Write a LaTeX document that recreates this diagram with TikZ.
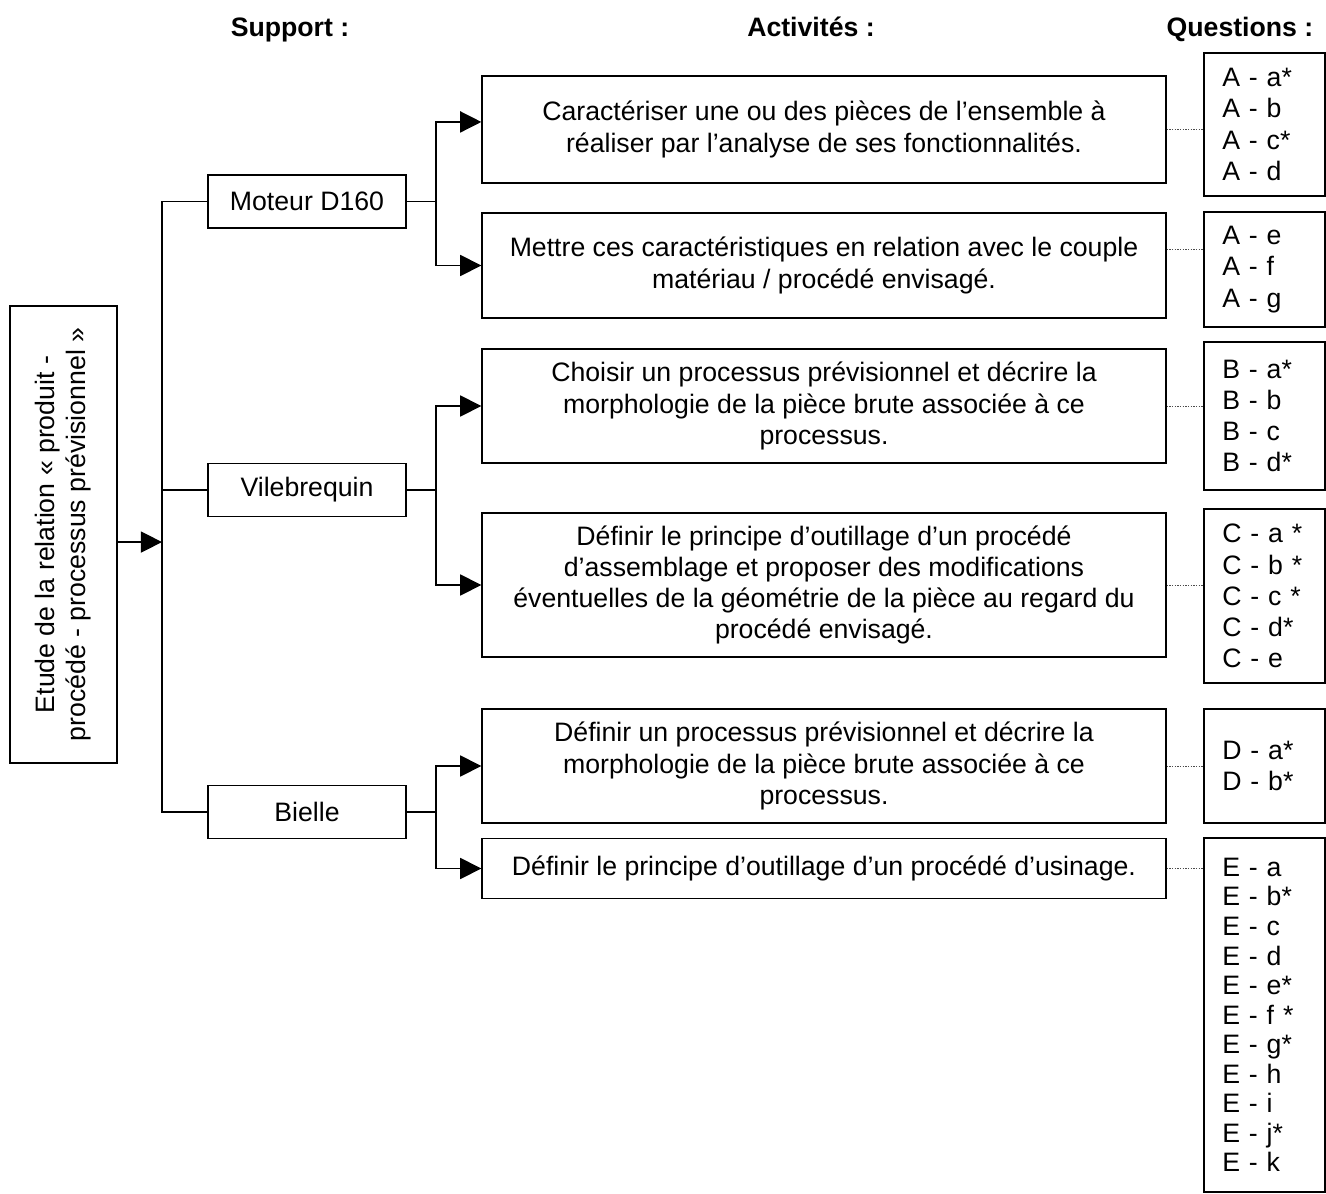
\documentclass[tikz,border=0pt]{standalone}
\usepackage{fontspec}
\setmainfont{Liberation Sans}
\usetikzlibrary{arrows.meta}

\tikzset{
  boite/.style={draw, line width=0.6pt, align=center, inner sep=2pt, font=\fontsize{12pt}{14pt}\selectfont},
  question/.style={draw, line width=0.6pt, align=left, text width=38pt, inner xsep=8.2pt, minimum width=54.45pt, font=\fontsize{12pt}{14pt}\selectfont},
  titre/.style={anchor=base, font=\bfseries\fontsize{12pt}{14pt}\selectfont},
  trait/.style={line width=0.6pt},
  fleche/.style={line width=0.6pt, -{Triangle[length=9.5pt,width=9.5pt]}},
  pointille/.style={line width=0.4pt, dash pattern=on 0.6pt off 0.6pt, black!70},
}

\begin{document}
\begin{tikzpicture}[x=0.45pt, y=-0.45pt]
    \useasboundingbox (0,0) rectangle (1326,1194);
    % titres des colonnes
    \node[titre] (tsupport) at (290,36) {Support :};
    \node[titre] (tactivite) at (811,36) {Activités :};
    \node[titre] (tquestion) at (1240,36) {Questions :};

    % etude
    \node[boite, rotate=90, minimum width=205.65pt, minimum height=48.15pt] (etude) at (63.5,534.5)
        {Etude de la relation « produit -\\procédé - processus prévisionnel »};

    % supports
    \node[boite, minimum width=89.1pt, minimum height=23.85pt] (moteur) at (307,201.5) {Moteur D160};
    \node[boite, minimum width=89.1pt, minimum height=23.85pt] (vile) at (307,490) {Vilebrequin};
    \node[boite, minimum width=89.1pt, minimum height=23.85pt] (bielle) at (307,812) {Bielle};

    % activites
    \node[boite, minimum width=307.8pt, minimum height=48.15pt] (act1) at (824,129.5)
        {Caractériser une ou des pièces de l’ensemble à\\réaliser par l’analyse de ses fonctionnalités.};
    \node[boite, minimum width=307.8pt, minimum height=47.25pt] (act2) at (824,265.5)
        {Mettre ces caractéristiques en relation avec le couple\\matériau / procédé envisagé.};
    \node[boite, minimum width=307.8pt, minimum height=51.3pt] (act3) at (824,406)
        {Choisir un processus prévisionnel et décrire la\\morphologie de la pièce brute associée à ce\\processus.};
    \node[boite, minimum width=307.8pt, minimum height=64.8pt] (act4) at (824,585)
        {Définir le principe d’outillage d’un procédé\\d’assemblage et proposer des modifications\\éventuelles de la géométrie de la pièce au regard du\\procédé envisagé.};
    \node[boite, minimum width=307.8pt, minimum height=51.3pt] (act5) at (824,766)
        {Définir un processus prévisionnel et décrire la\\morphologie de la pièce brute associée à ce\\processus.};
    \node[boite, minimum width=307.8pt, minimum height=27pt] (act6) at (824,868.5)
        {Définir le principe d’outillage d’un procédé d’usinage.};

    % questions
    \node[question, minimum height=64.35pt] (qa1) at (1264.5,124.5) {A - a*\\A - b\\A - c*\\A - d};
    \node[question, minimum height=51.75pt] (qa2) at (1264.5,269.5) {A - e\\A - f\\A - g};
    \node[question, minimum height=66.6pt] (qb) at (1264.5,416) {B - a*\\B - b\\B - c\\B - d*};
    \node[question, minimum height=78.3pt] (qc) at (1264.5,596) {C - a *\\C - b *\\C - c *\\C - d*\\C - e};
    \node[question, minimum height=51.3pt] (qd) at (1264.5,766) {D - a*\\D - b*};
    \node[question, minimum height=159.3pt, font=\fontsize{12pt}{13.3pt}\selectfont] (qe) at (1264.5,1015)
        {E - a\\E - b*\\E - c\\E - d\\E - e*\\E - f *\\E - g*\\E - h\\E - i\\E - j*\\E - k};

    % liaisons
    \coordinate (tronc) at (162,0);
    \coordinate (branche) at (436,0);
    \draw[fleche] ([yshift=-3.4pt]etude.south) -- ([yshift=-3.4pt]etude.south -| tronc);
    \draw[trait] (moteur.west) -- (moteur.west -| tronc) -- (bielle.west -| tronc) -- (bielle.west);
    \draw[trait] (vile.west) -- (vile.west -| tronc);

    \draw[fleche] (moteur.east) -- (moteur.east -| branche) |- ([yshift=3.4pt]act1.west);
    \draw[fleche] (moteur.east -| branche) |- (act2.west);
    \draw[fleche] (vile.east) -- (vile.east -| branche) |- (act3.west);
    \draw[fleche] (vile.east -| branche) |- (act4.west);
    \draw[fleche] (bielle.east) -- (bielle.east -| branche) |- (act5.west);
    \draw[fleche] (bielle.east -| branche) |- (act6.west);

    % pointilles vers les questions
    \draw[pointille] (act1.east) -- (act1.east -| qa1.west);
    \draw[pointille] ([yshift=7.4pt]act2.east) -- ([yshift=7.4pt]act2.east -| qa2.west);
    \draw[pointille] (act3.east) -- (act3.east -| qb.west);
    \draw[pointille] (act4.east) -- (act4.east -| qc.west);
    \draw[pointille] (act5.east) -- (act5.east -| qd.west);
    \draw[pointille] (act6.east) -- (act6.east -| qe.west);
\end{tikzpicture}
\end{document}
